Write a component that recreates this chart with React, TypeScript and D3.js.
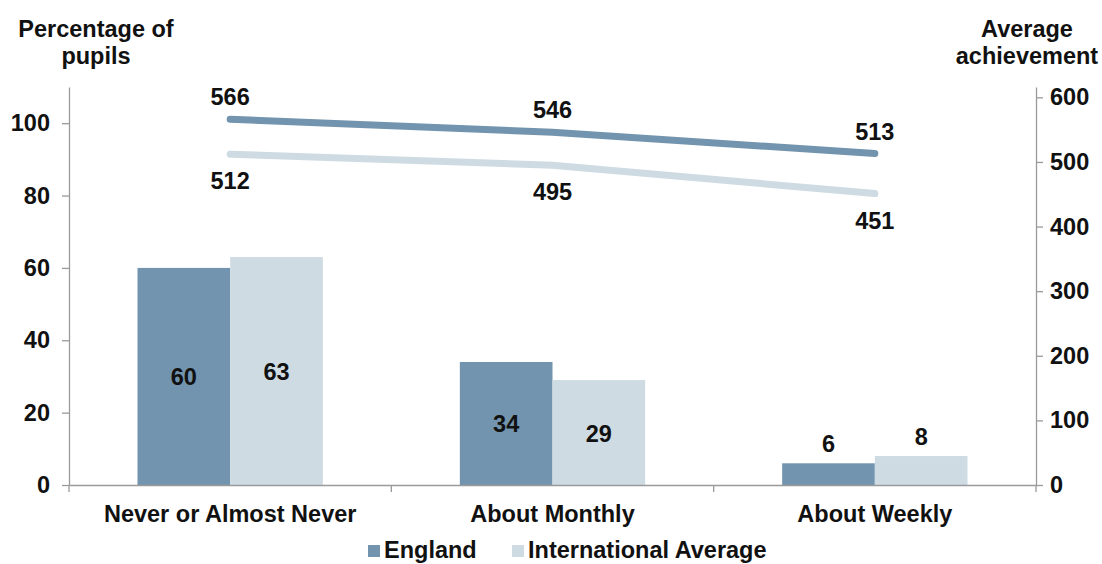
import { useRef, useEffect } from "react";
import * as d3 from "d3";

// chart data
const categories = ["Never or Almost Never", "About Monthly", "About Weekly"];
const englandPct = [60, 34, 6];
const intlPct = [63, 29, 8];
const englandScore = [566, 546, 513];
const intlScore = [512, 495, 451];
const leftTicks = [0, 20, 40, 60, 80, 100];
const rightTicks = [0, 100, 200, 300, 400, 500, 600];
const seriesNames = ["England", "International Average"];

const DARK = "#7294ae";
const LIGHT = "#cedbe3";
const FONT = "'Liberation Sans', Arial, sans-serif";
const FS = 23.5;

const App = () => {
  const svgRef = useRef<SVGSVGElement | null>(null);

  useEffect(() => {
    const width = 1102;
    const height = 564;
    const margin = { top: 87, right: 66, bottom: 79, left: 69 };
    const svg = d3.select(svgRef.current);
    svg.selectAll("*").remove();

    const x = d3.scaleBand<string>()
      .domain(categories)
      .range([margin.left, width - margin.right]);
    const inner = d3.scaleBand<number>()
      .domain([0, 1])
      .range([0, x.bandwidth() * 0.575])
      .padding(0);
    const groupOffset = (x.bandwidth() - x.bandwidth() * 0.575) / 2;

    const yL = d3.scaleLinear().domain([0, 110]).range([height - margin.bottom, margin.top]);
    const yR = d3.scaleLinear().domain([0, 616]).range([height - margin.bottom, margin.top]);

    const g = svg.append("g").style("font-family", FONT).style("font-weight", "bold");

    // bars
    const barSeries = [englandPct, intlPct];
    barSeries.forEach((vals, s) => {
      g.selectAll(`.bar${s}`)
        .data(vals)
        .join("rect")
        .attr("x", (_, i) => (x(categories[i]) as number) + groupOffset + (inner(s) as number))
        .attr("y", d => yL(d))
        .attr("width", inner.bandwidth())
        .attr("height", d => yL(0) - yL(d))
        .attr("fill", s === 0 ? DARK : LIGHT);

      g.selectAll(`.barlab${s}`)
        .data(vals)
        .join("text")
        .attr("x", (_, i) => (x(categories[i]) as number) + groupOffset + (inner(s) as number) + inner.bandwidth() / 2)
        .attr("y", d => d < 10 ? yL(d) - 11 : (yL(d) + yL(0)) / 2 + 9)
        .attr("text-anchor", "middle")
        .attr("font-size", FS)
        .attr("fill", "#111")
        .text(d => d);
    });

    // axes
    const axisColor = "#9a9a9a";
    const leftAxis = g.append("g")
      .attr("transform", `translate(${margin.left},0)`)
      .call(d3.axisLeft(yL).tickValues(leftTicks).tickSize(7).tickPadding(12).tickSizeOuter(0));
    const rightAxis = g.append("g")
      .attr("transform", `translate(${width - margin.right},0)`)
      .call(d3.axisRight(yR).tickValues(rightTicks).tickSize(7).tickPadding(7).tickSizeOuter(0));
    const bottomAxis = g.append("g")
      .attr("transform", `translate(0,${height - margin.bottom})`)
      .call(d3.axisBottom(x).tickSize(0).tickPadding(20));
    [leftAxis, rightAxis, bottomAxis].forEach(a => {
      a.select(".domain").attr("stroke", axisColor).attr("stroke-width", 1.3);
      a.selectAll(".tick line").attr("stroke", axisColor).attr("stroke-width", 1.3);
      a.selectAll(".tick text")
        .attr("fill", "#111")
        .attr("font-size", FS)
        .attr("font-family", FONT)
        .attr("font-weight", "bold");
    });
    // category separators on x axis
    const bounds = [margin.left, ...categories.map(c => (x(c) as number) + x.bandwidth())];
    g.selectAll(".xsep")
      .data(bounds)
      .join("line")
      .attr("x1", d => d).attr("x2", d => d)
      .attr("y1", yL(0)).attr("y2", yL(0) + 7)
      .attr("stroke", axisColor)
      .attr("stroke-width", 1.3);

    // lines
    const lineSeries = [intlScore, englandScore];
    const line = d3.line<number>()
      .x((_, i) => (x(categories[i]) as number) + x.bandwidth() / 2)
      .y(d => yR(d));
    lineSeries.forEach((vals, s) => {
      g.append("path")
        .datum(vals)
        .attr("d", line)
        .attr("fill", "none")
        .attr("stroke", s === 1 ? DARK : LIGHT)
        .attr("stroke-width", 7)
        .attr("stroke-linecap", "round");
      g.selectAll(`.linelab${s}`)
        .data(vals)
        .join("text")
        .attr("x", (_, i) => (x(categories[i]) as number) + x.bandwidth() / 2)
        .attr("y", d => s === 1 ? yR(d) - 14 : yR(d) + 35)
        .attr("text-anchor", "middle")
        .attr("font-size", FS)
        .attr("fill", "#111")
        .text(d => d);
    });

    // axis titles
    const titles = [
      { x: 96, lines: ["Percentage of", "pupils"] },
      { x: 1027, lines: ["Average", "achievement"] },
    ];
    titles.forEach(t => {
      t.lines.forEach((l, i) => {
        g.append("text")
          .attr("x", t.x)
          .attr("y", 37 + i * 27)
          .attr("text-anchor", "middle")
          .attr("font-size", FS)
          .attr("fill", "#111")
          .text(l);
      });
    });

    // legend
    const legendX = [368, 512];
    seriesNames.forEach((name, i) => {
      g.append("rect")
        .attr("x", legendX[i])
        .attr("y", 545)
        .attr("width", 12)
        .attr("height", 12)
        .attr("fill", i === 0 ? DARK : LIGHT);
      g.append("text")
        .attr("x", legendX[i] + 16)
        .attr("y", 558)
        .attr("font-size", FS)
        .attr("fill", "#111")
        .text(name);
    });
  }, []);

  return (
    <svg
      ref={svgRef}
      width={1102}
      height={564}
      style={{ position: "absolute", left: 0, top: 0, background: "#fff" }}
    />
  );
};

export default App;
